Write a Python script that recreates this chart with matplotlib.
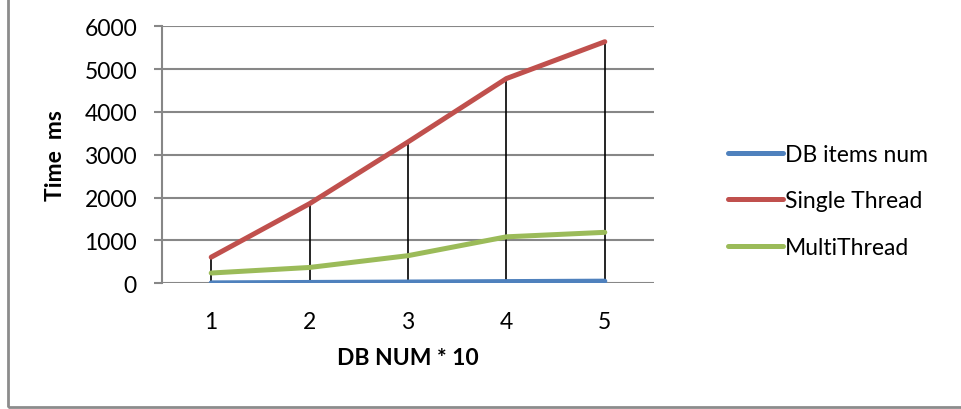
import matplotlib
matplotlib.use("Agg")
import matplotlib.pyplot as plt
from matplotlib.patches import Rectangle
import numpy as np

categories = ["1", "2", "3", "4", "5"]
db_items = [10, 20, 30, 40, 50]
single_thread = [610, 1860, 3300, 4780, 5640]
multi_thread = [240, 370, 645, 1085, 1190]
y_ticks = [0, 1000, 2000, 3000, 4000, 5000, 6000]

plt.rcParams['font.family'] = ['Lato', 'DejaVu Sans']
FS = 16.5

fig = plt.figure(figsize=(9.61, 4.10), dpi=100)
ax = fig.add_axes([162/961, 1-284.3/410, (654-162)/961, (284.3-27.3)/410])

x = np.arange(1, len(categories) + 1)
gridc = '#878787'

ax.set_ylim(0, 6000)
ax.set_xlim(0.5, len(categories) + 0.5)
ax.set_yticks(y_ticks)
ax.set_yticklabels([str(v) for v in y_ticks], fontsize=FS)
ax.set_xticks(x)
ax.set_xticklabels(categories, fontsize=FS)
ax.yaxis.grid(True, color=gridc, linewidth=1.5)
ax.set_axisbelow(True)
for s in ['top', 'right', 'bottom']:
    ax.spines[s].set_visible(False)
ax.spines['left'].set_color(gridc)
ax.spines['left'].set_linewidth(1.5)
ax.tick_params(axis='y', length=6, color=gridc, width=1.5, pad=12)
ax.tick_params(axis='x', length=0, pad=20)

tops = np.maximum.reduce([db_items, single_thread, multi_thread])
ax.vlines(x, 0, tops, colors='black', linewidth=1.2, zorder=2)

ax.plot(x, db_items, color='#4F81BD', linewidth=3.6, solid_capstyle='round', label='DB items num', zorder=3)
ax.plot(x, single_thread, color='#C0504D', linewidth=3.6, solid_capstyle='round', label='Single Thread', zorder=3)
ax.plot(x, multi_thread, color='#9BBB59', linewidth=3.6, solid_capstyle='round', label='MultiThread', zorder=3)

ax.set_ylabel('Time  ms', fontsize=FS, fontweight='bold', labelpad=13)
ax.set_xlabel('DB NUM * 10', fontsize=FS, fontweight='bold', labelpad=11)

leg = ax.legend(loc='center left', bbox_to_anchor=(728/961, 1-202/410), bbox_transform=fig.transFigure,
                frameon=False, fontsize=FS, handlelength=2.4, handletextpad=0.1, labelspacing=1.1,
                borderpad=0, borderaxespad=0)

fig.patches.append(Rectangle((7.5/961, 2.0/410), 1.2, 1.2, transform=fig.transFigure,
                             fill=False, edgecolor='#8c8c8c', linewidth=2))

fig.savefig('out.png', dpi=100)
